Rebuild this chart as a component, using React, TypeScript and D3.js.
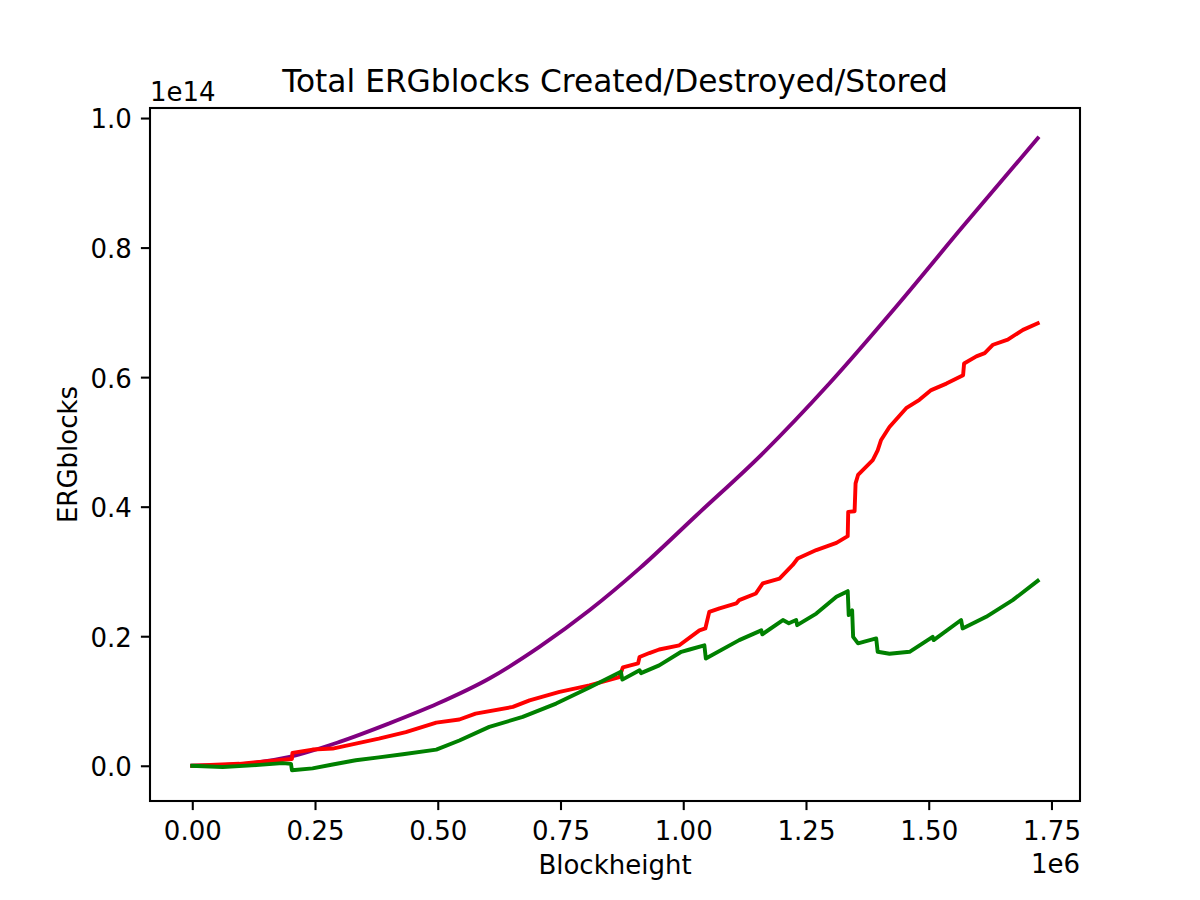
import { useRef, useEffect } from "react";
import * as d3 from "d3";

// blockheight in units of 1e6, ERGblocks in units of 1e14
const createdPts: [number, number][] = [
  [0, 0], [0.096, 0.0023], [0.198, 0.0136], [0.3, 0.0368], [0.4, 0.065], [0.5, 0.096],
  [0.605, 0.1347], [0.707, 0.1835], [0.809, 0.24], [0.911, 0.3047], [1.026, 0.386],
  [1.162, 0.4823], [1.298, 0.5905], [1.434, 0.709], [1.569, 0.832], [1.722, 0.9687],
];

const destroyedPts: [number, number][] = [
  [0, 0], [0.096, 0.003], [0.191, 0.0096], [0.203, 0.0105], [0.204, 0.0198], [0.245, 0.025],
  [0.286, 0.0266], [0.333, 0.0343], [0.38, 0.042], [0.435, 0.052], [0.497, 0.0667], [0.544, 0.0714],
  [0.577, 0.0806], [0.653, 0.0909], [0.687, 0.101], [0.748, 0.114], [0.809, 0.124],
  [0.87, 0.137], [0.877, 0.152], [0.908, 0.158], [0.911, 0.168], [0.931, 0.174],
  [0.951, 0.1795], [0.992, 0.186], [1.033, 0.209], [1.045, 0.212], [1.053, 0.2376],
  [1.074, 0.243], [1.108, 0.2506], [1.114, 0.2557], [1.148, 0.266], [1.162, 0.2815],
  [1.196, 0.289], [1.223, 0.31], [1.233, 0.32], [1.271, 0.333], [1.312, 0.344],
  [1.335, 0.3545], [1.336, 0.392], [1.349, 0.393], [1.351, 0.436], [1.356, 0.449],
  [1.386, 0.472], [1.396, 0.487], [1.403, 0.503], [1.42, 0.523], [1.454, 0.552],
  [1.481, 0.565], [1.505, 0.58], [1.536, 0.59], [1.57, 0.603], [1.572, 0.621],
  [1.597, 0.632], [1.614, 0.637], [1.631, 0.65], [1.661, 0.658], [1.692, 0.673], [1.722, 0.683],
];

const storedPts: [number, number][] = [
  [0, 0], [0.062, -0.002], [0.13, 0.001], [0.184, 0.004], [0.201, 0.003], [0.203, -0.007],
  [0.245, -0.004], [0.286, 0.002], [0.333, 0.0085], [0.38, 0.013], [0.429, 0.0178], [0.497, 0.025],
  [0.544, 0.039], [0.605, 0.06], [0.673, 0.0754], [0.741, 0.096], [0.809, 0.121],
  [0.873, 0.145], [0.876, 0.133], [0.911, 0.1475], [0.914, 0.143], [0.951, 0.155],
  [0.996, 0.176], [1.013, 0.1795], [1.043, 0.186], [1.046, 0.1656], [1.114, 0.194],
  [1.159, 0.209], [1.161, 0.203], [1.203, 0.225], [1.215, 0.22], [1.23, 0.225],
  [1.232, 0.217], [1.271, 0.235], [1.312, 0.261], [1.335, 0.2696], [1.337, 0.2325],
  [1.344, 0.24], [1.346, 0.199], [1.356, 0.189], [1.393, 0.1965], [1.396, 0.176],
  [1.42, 0.173], [1.461, 0.176], [1.508, 0.199], [1.51, 0.194], [1.566, 0.225],
  [1.569, 0.212], [1.617, 0.23], [1.671, 0.2557], [1.722, 0.2855],
];

const xTicks = [0, 0.25, 0.5, 0.75, 1.0, 1.25, 1.5, 1.75];
const yTicks = [0, 0.2, 0.4, 0.6, 0.8, 1.0];

const series = [
  { pts: createdPts, color: "#800080", smooth: true },
  { pts: destroyedPts, color: "#ff0000", smooth: false },
  { pts: storedPts, color: "#008000", smooth: false },
];

export default function App() {
  const ref = useRef<SVGSVGElement>(null);

  useEffect(() => {
    if (!ref.current) return;
    const svg = d3.select(ref.current); svg.selectAll("*").remove();
    const font = "'DejaVu Sans', sans-serif";
    const fs = "26px";
    const L = 150, R = 1080, T = 108, B = 801;
    const x = d3.scaleLinear().domain([-0.0861, 1.8081]).range([L, R]);
    const y = d3.scaleLinear().domain([-0.0544, 1.0155]).range([B, T]);

    svg.append("rect").attr("width", 1200).attr("height", 900).attr("fill", "#fff");

    const g = svg.append("g");
    series.forEach(s => {
      const line = d3.line<[number, number]>().x(d => x(d[0])).y(d => y(d[1]))
        .curve(s.smooth ? d3.curveMonotoneX : d3.curveLinear);
      g.append("path").datum(s.pts).attr("fill", "none").attr("stroke", s.color)
        .attr("stroke-width", 3.9).attr("stroke-linejoin", "round").attr("stroke-linecap", "square").attr("d", line);
    });

    const xa = svg.append("g").attr("transform", `translate(0,${B})`)
      .call(d3.axisBottom(x).tickValues(xTicks).tickFormat(d3.format(".2f")).tickSize(9.1).tickPadding(9.1));
    xa.selectAll("text").attr("y", 38.5).attr("dy", "0").attr("fill", "#000").attr("font-size", fs).attr("font-family", font);
    const ya = svg.append("g").attr("transform", `translate(${L},0)`)
      .call(d3.axisLeft(y).tickValues(yTicks).tickFormat(d3.format(".1f")).tickSize(9.1).tickPadding(9.1));
    ya.selectAll("text").attr("dy", "0.38em").attr("fill", "#000").attr("font-size", fs).attr("font-family", font);
    svg.selectAll(".domain").remove();
    svg.selectAll(".tick line").attr("stroke", "#000").attr("stroke-width", 2.08);

    svg.append("rect").attr("x", L).attr("y", T).attr("width", R - L).attr("height", B - T)
      .attr("fill", "none").attr("stroke", "#000").attr("stroke-width", 2.08);

    svg.append("text").attr("x", (L + R) / 2).attr("y", 92).attr("text-anchor", "middle")
      .attr("font-size", "31.25px").attr("font-family", font).text("Total ERGblocks Created/Destroyed/Stored");
    svg.append("text").attr("x", (L + R) / 2).attr("y", 874).attr("text-anchor", "middle")
      .attr("font-size", fs).attr("font-family", font).text("Blockheight");
    svg.append("text").attr("transform", `translate(76.5,${(T + B) / 2}) rotate(-90)`).attr("text-anchor", "middle")
      .attr("font-size", fs).attr("font-family", font).text("ERGblocks");
    svg.append("text").attr("x", L).attr("y", 100.5)
      .attr("font-size", fs).attr("font-family", font).text("1e14");
    svg.append("text").attr("x", R).attr("y", 872.5).attr("text-anchor", "end")
      .attr("font-size", fs).attr("font-family", font).text("1e6");
  }, []);

  return <svg ref={ref} width={1200} height={900} style={{ display: "block", margin: -8 }} />;
}
